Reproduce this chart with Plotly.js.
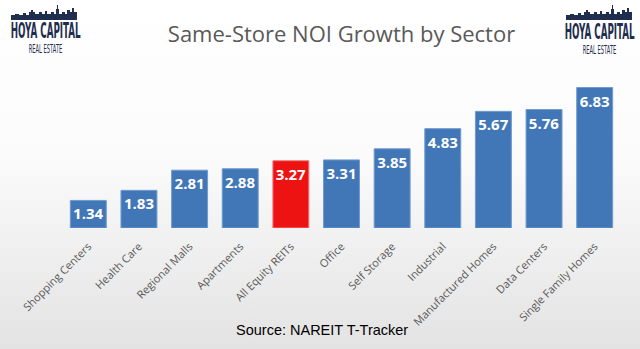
<!DOCTYPE html>
<html>
<head>
<meta charset="utf-8">
<script src="https://cdn.plot.ly/plotly-3.0.1.min.js"></script>
<style>
html,body{margin:0;padding:0;}
body{width:640px;height:349px;background:linear-gradient(to bottom,#ffffff 0%,#fbfbfb 45%,#e3e3e3 100%);}
#chart{width:640px;height:349px;}
</style>
</head>
<body>
<div id="chart"></div>
<script>
const categories = ["Shopping Centers","Health Care","Regional Malls","Apartments","All Equity REITs","Office","Self Storage","Industrial","Manufactured Homes","Data Centers","Single Family Homes"];
const values = [1.34,1.83,2.81,2.88,3.27,3.31,3.85,4.83,5.67,5.76,6.83];
const labels = ["1.34","1.83","2.81","2.88","3.27","3.31","3.85","4.83","5.67","5.76","6.83"];
const highlight = "All Equity REITs";

const W = 640, H = 349;
const M = {l:63, r:20, t:84, b:121};
const pw = W - M.l - M.r, ph = H - M.t - M.b;
const px = x => (x - M.l) / pw;
const py = y => (H - M.b - y) / ph;

const colors = categories.map(c => c === highlight ? "#ee1313" : "#4277b7");
const lineColors = categories.map(c => c === highlight ? "#f47a7a" : "#6f9bd0");

// skyline path (pixel coords relative to logo origin)
function skyline(ox, oy){
  const pts = [[0,15],[0,10],[4,10],[4,9],[8,9],[8,10],[12,10],[12,8],[15,8],[15,10],[18,10],[18,7],[20,7],[20,5],[22,5],[22,7],[24,7],[24,9],[28,9],[28,7],[31,7],[31,9],[34,9],[34,6],[36,6],[36,9],[40,9],[40,7],[43,7],[43,9],[45,9],[45,4],[46,4],[46,0],[47,0],[47,4],[48,4],[48,9],[51,9],[51,7],[54,7],[54,9],[56,9],[56,5],[59,5],[59,7],[61,7],[61,3],[63,3],[63,7],[66,7],[66,15]];
  let s = "";
  pts.forEach((p,i)=>{ s += (i? " L":"M") + px(ox+p[0]).toFixed(4) + "," + py(oy+p[1]).toFixed(4); });
  return s + " Z";
}

const data = [{
  type: "bar",
  x: categories,
  y: values,
  text: labels,
  textposition: "inside",
  insidetextanchor: "end",
  textangle: 0,
  constraintext: "none",
  textfont: {family: "Open Sans, sans-serif", size: 15, color: "#ffffff", weight: 700},
  marker: {color: colors, line: {color: lineColors, width: 1}},
  hoverinfo: "none",
  cliponaxis: false
}];

const logoFont = "DejaVu Sans Condensed, Liberation Sans, sans-serif";
const logoColor = "#1f2d4e";
const layout = {
  width: W, height: H,
  margin: M,
  paper_bgcolor: "rgba(0,0,0,0)",
  plot_bgcolor: "rgba(0,0,0,0)",
  bargap: 0.29,
  showlegend: false,
  title: {text: "Same-Store NOI Growth by Sector", x: 0.5, xref: "paper", y: 0.925, yref: "container",
          font: {family: "Open Sans, sans-serif", size: 22, color: "#595959"}},
  xaxis: {tickangle: -45, showgrid: false, zeroline: false, showline: false, ticks: "",
          ticklabelstandoff: 9,
          tickfont: {family: "Open Sans, sans-serif", size: 11, color: "#595959"}, fixedrange: true},
  yaxis: {range: [0, 7], visible: false, fixedrange: true},
  shapes: [
    {type: "path", xref: "paper", yref: "paper", path: skyline(11, 5), fillcolor: logoColor, line: {width: 0}},
    {type: "path", xref: "paper", yref: "paper", path: skyline(566, 5), fillcolor: logoColor, line: {width: 0}}
  ],
  annotations: [
    {text: "<b>HOYA CAPITAL</b>", xref: "paper", yref: "paper", x: px(45), y: py(30.5), xanchor: "center", yanchor: "middle", showarrow: false,
     font: {family: logoFont, size: 16, color: logoColor}},
    {text: "REAL ESTATE", xref: "paper", yref: "paper", x: px(45), y: py(50), xanchor: "center", yanchor: "middle", showarrow: false,
     font: {family: logoFont, size: 8, color: logoColor}},
    {text: "<b>HOYA CAPITAL</b>", xref: "paper", yref: "paper", x: px(599), y: py(32), xanchor: "center", yanchor: "middle", showarrow: false,
     font: {family: logoFont, size: 16, color: logoColor}},
    {text: "REAL ESTATE", xref: "paper", yref: "paper", x: px(599), y: py(50.5), xanchor: "center", yanchor: "middle", showarrow: false,
     font: {family: logoFont, size: 8, color: logoColor}},
    {text: "Source: NAREIT T-Tracker", xref: "paper", yref: "paper", x: px(322), y: py(330), xanchor: "center", yanchor: "middle", showarrow: false,
     font: {family: "Liberation Sans, sans-serif", size: 14.5, color: "#000000"}}
  ]
};

// target widths / vertical stretch for the logo wordmarks
const logoFit = {"HOYA CAPITAL": {w: 70, sy: 1.3}, "REAL ESTATE": {w: 34, sy: 1.5}};

Plotly.newPlot("chart", data, layout, {displayModeBar: false, staticPlot: true}).then(gd => {
  gd.querySelectorAll("text.annotation-text").forEach(t => {
    const fit = logoFit[t.textContent.trim()];
    if (!fit) return;
    const bb = t.getBBox();
    const cx = bb.x + bb.width / 2, cy = bb.y + bb.height / 2;
    const sx = fit.w / bb.width;
    t.setAttribute("transform", `translate(${cx},${cy}) scale(${sx},${fit.sy}) translate(${-cx},${-cy})`);
  });
});
</script>
</body>
</html>
